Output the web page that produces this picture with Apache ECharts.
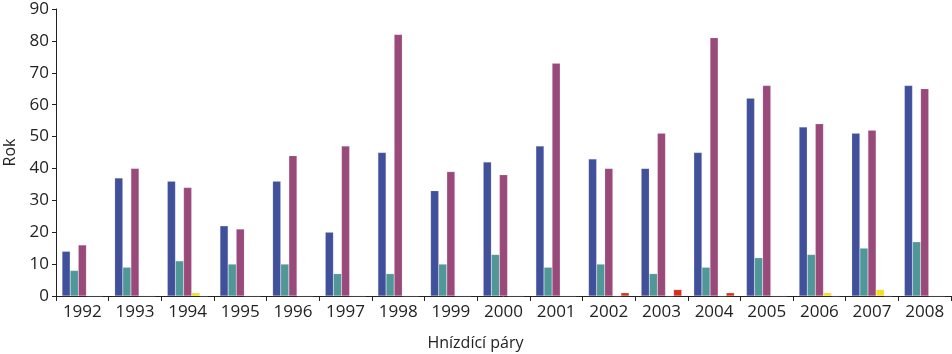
<!DOCTYPE html>
<html>
<head>
<meta charset="utf-8">
<script src="https://cdn.jsdelivr.net/npm/echarts@6/dist/echarts.min.js"></script>
<style>
  html, body { margin: 0; padding: 0; background: #fff; }
  #chart { width: 952px; height: 354px; }
</style>
</head>
<body>
<div id="chart"></div>
<script>
// roky
var years = ["1992", "1993", "1994", "1995", "1996", "1997", "1998", "1999", "2000",
  "2001", "2002", "2003", "2004", "2005", "2006", "2007", "2008"];
// hodnoty
var blueData = [14, 37, 36, 22, 36, 20, 45, 33, 42, 47, 43, 40, 45, 62, 53, 51, 66];
var tealData = [8, 9, 11, 10, 10, 7, 7, 10, 13, 9, 10, 7, 9, 12, 13, 15, 17];
var purpleData = [16, 40, 34, 21, 44, 47, 82, 39, 38, 73, 40, 51, 81, 66, 54, 52, 65];
var yellowData = [0, 0, 1, 0, 0, 0, 0, 0, 0, 0, 0, 0, 0, 0, 1, 2, 0];
var redData = [0, 0, 0, 0, 0, 0, 0, 0, 0, 0, 1, 2, 1, 0, 0, 0, 0];
var yTicks = [0, 10, 20, 30, 40, 50, 60, 70, 80, 90];

var font = "Open Sans";
var myChart = echarts.init(document.getElementById("chart"));

function bar(name, data, color) {
  return {
    name: name,
    type: "bar",
    data: data,
    barGap: "0%",
    barCategoryGap: "23%",
    itemStyle: {
      color: color,
      borderColor: "rgba(230,220,240,0.35)",
      borderWidth: 0.5,
    },
  };
}

var option = {
  animation: false,
  backgroundColor: "#ffffff",
  grid: {
    left: 56,
    right: 1,
    top: 9,
    bottom: 58,
    containLabel: false,
    outerBoundsMode: "none",
  },
  xAxis: {
    type: "category",
    data: years,
    name: "Hnízdící páry",
    nameLocation: "middle",
    nameGap: 39,
    nameTextStyle: { color: "#222", fontSize: 16, fontFamily: font, padding: [0, 56, 0, 0] },
    axisLine: { show: true, lineStyle: { color: "#222", width: 1 } },
    axisTick: { show: true, length: 5, alignWithLabel: false, lineStyle: { color: "#222" } },
    axisLabel: { color: "#222", fontSize: 17, fontFamily: font, margin: 8, interval: 0 },
  },
  yAxis: {
    type: "value",
    min: yTicks[0],
    max: yTicks[yTicks.length - 1],
    interval: 10,
    name: "Rok",
    nameLocation: "middle",
    nameGap: 37,
    nameRotate: 90,
    nameTextStyle: { color: "#222", fontSize: 16, fontFamily: font },
    axisLine: { show: true, lineStyle: { color: "#222", width: 1 } },
    axisTick: { show: true, length: 4, lineStyle: { color: "#222" } },
    axisLabel: { color: "#222", fontSize: 17, fontFamily: font, margin: 7 },
    splitLine: { show: false },
  },
  series: [
    bar("s1", blueData, "#40509b"),
    bar("s2", tealData, "#509797"),
    bar("s3", purpleData, "#994a7a"),
    bar("s4", yellowData, "#f2e21e"),
    bar("s5", redData, "#d6301c"),
  ],
};
myChart.setOption(option);
</script>
</body>
</html>
